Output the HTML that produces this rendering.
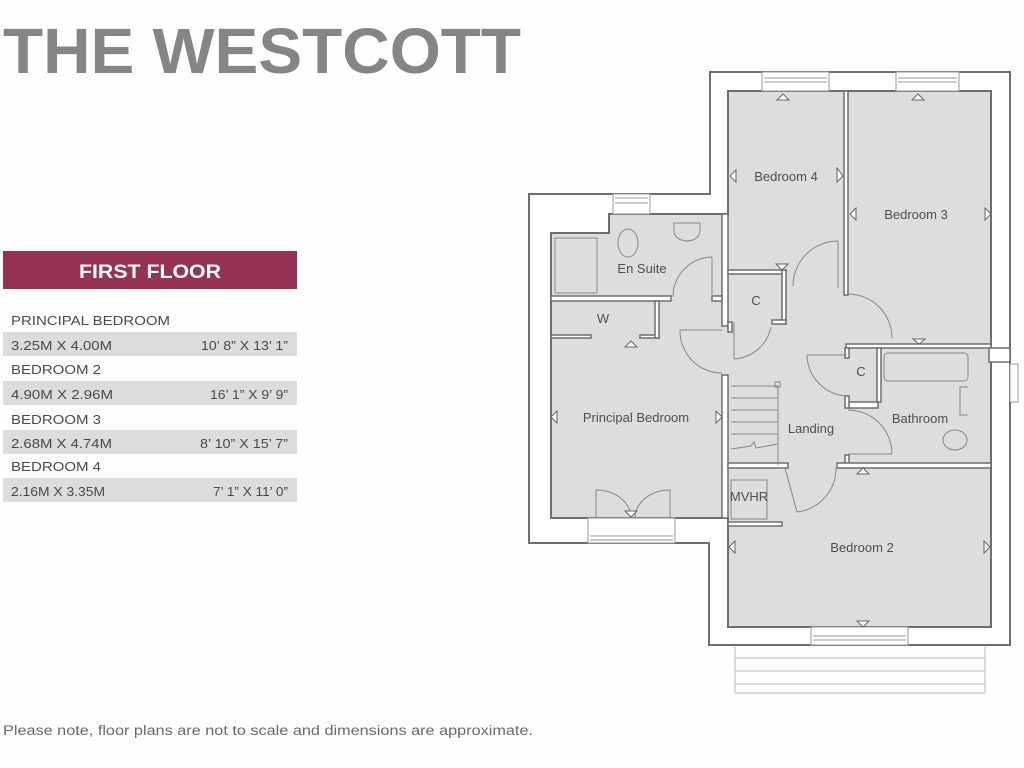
<!DOCTYPE html>
<html><head><meta charset="utf-8"><style>
html,body{margin:0;padding:0;background:#fff;}
svg{display:block;}
</style></head><body>
<svg width="1024" height="768" viewBox="0 0 1024 768" xmlns="http://www.w3.org/2000/svg" font-family="'Liberation Sans', sans-serif">
<rect width="1024" height="768" fill="#fefefe"/>
<!-- title -->
<text x="3" y="73" font-size="64" font-weight="bold" fill="#858487" textLength="518" lengthAdjust="spacingAndGlyphs">THE WESTCOTT</text>
<!-- table -->
<rect x="3" y="251" width="294" height="38" fill="#963352"/>
<text x="79" y="278" font-size="19" font-weight="bold" fill="#fff" textLength="142" lengthAdjust="spacingAndGlyphs">FIRST FLOOR</text>
<g font-size="13" fill="#4a4a4a">
<text x="11" y="325" textLength="159" lengthAdjust="spacingAndGlyphs">PRINCIPAL BEDROOM</text>
<rect x="3" y="332" width="294" height="24" fill="#dcdbdd"/>
<text x="11" y="350" textLength="101" lengthAdjust="spacingAndGlyphs">3.25M X 4.00M</text><text x="201" y="350" textLength="87" lengthAdjust="spacingAndGlyphs">10’ 8” X 13’ 1”</text>
<text x="11" y="374" textLength="90" lengthAdjust="spacingAndGlyphs">BEDROOM 2</text>
<rect x="3" y="381" width="294" height="24" fill="#dcdbdd"/>
<text x="11" y="399" textLength="102" lengthAdjust="spacingAndGlyphs">4.90M X 2.96M</text><text x="210" y="399" textLength="78" lengthAdjust="spacingAndGlyphs">16’ 1” X 9’ 9”</text>
<text x="11" y="424" textLength="90" lengthAdjust="spacingAndGlyphs">BEDROOM 3</text>
<rect x="3" y="430" width="294" height="24" fill="#dcdbdd"/>
<text x="11" y="448" textLength="101" lengthAdjust="spacingAndGlyphs">2.68M X 4.74M</text><text x="200" y="448" textLength="88" lengthAdjust="spacingAndGlyphs">8’ 10” X 15’ 7”</text>
<text x="11" y="471" textLength="90" lengthAdjust="spacingAndGlyphs">BEDROOM 4</text>
<rect x="3" y="478" width="294" height="24" fill="#dcdbdd"/>
<text x="11" y="496" textLength="94" lengthAdjust="spacingAndGlyphs">2.16M X 3.35M</text><text x="213" y="496" textLength="75" lengthAdjust="spacingAndGlyphs">7’ 1” X 11’ 0”</text>
</g>
<text x="3" y="735" font-size="13.5" fill="#6a6a6a" textLength="530" lengthAdjust="spacingAndGlyphs">Please note, floor plans are not to scale and dimensions are approximate.</text>

<!-- balcony -->
<g stroke="#bbb" stroke-width="1" fill="none">
<rect x="735" y="645" width="250" height="48"/>
<line x1="735" y1="658" x2="985" y2="658"/><line x1="735" y1="671" x2="985" y2="671"/><line x1="735" y1="684" x2="985" y2="684"/>
</g>
<!-- outer walls -->
<polygon points="529,194 710,194 710,72 1010,72 1010,645 709,645 709,543 529,543" fill="#fff" stroke="#6e6e70" stroke-width="2"/>
<!-- interior -->
<polygon points="551,233 609,233 609,214 728,214 728,91 991,91 991,627 728,627 728,518 551,518" fill="#dddcde" stroke="#6e6e70" stroke-width="2"/>
<!-- internal walls -->
<g fill="#fff" stroke="#6e6e70" stroke-width="1.5">
<rect x="722" y="214" width="6" height="112"/>
<rect x="722" y="375" width="6" height="143"/>
<rect x="551" y="296" width="120" height="5"/>
<rect x="712" y="296" width="10" height="5"/>
<rect x="551" y="335" width="40" height="3"/>
<rect x="640" y="335" width="19" height="3"/>
<rect x="655" y="301" width="4" height="37"/>
<rect x="728" y="270" width="58" height="4"/>
<rect x="782" y="270" width="4" height="54"/>
<rect x="772" y="320" width="14" height="4"/>
<rect x="728" y="322" width="4" height="10"/>
<rect x="844" y="91" width="4" height="204"/>
<rect x="846" y="344" width="145" height="4"/>
<rect x="877" y="348" width="4" height="54"/>
<rect x="848" y="402" width="30" height="6"/>
<rect x="845" y="348" width="4" height="10"/>
<rect x="845" y="396" width="4" height="12"/>
<rect x="845" y="455" width="4" height="10"/>
<rect x="837" y="463" width="154" height="5"/>
<rect x="728" y="463" width="60" height="5"/>
<rect x="728" y="522" width="54" height="4"/>
<rect x="989" y="348" width="21" height="14"/>
</g>
<!-- windows -->
<g fill="#fff" stroke="#999" stroke-width="1">
<rect x="762" y="72" width="67" height="19"/><line x1="764" y1="78" x2="827" y2="78"/><line x1="764" y1="82" x2="827" y2="82"/>
<rect x="896" y="72" width="63" height="19"/><line x1="898" y1="78" x2="957" y2="78"/><line x1="898" y1="82" x2="957" y2="82"/>
<rect x="613" y="194" width="37" height="20"/><line x1="615" y1="198" x2="648" y2="198"/><line x1="615" y1="203" x2="648" y2="203"/>
<rect x="588" y="518" width="87" height="25"/><line x1="590" y1="536" x2="673" y2="536"/><line x1="590" y1="540" x2="673" y2="540"/>
<rect x="811" y="627" width="97" height="18"/><line x1="813" y1="636" x2="906" y2="636"/><line x1="813" y1="640" x2="906" y2="640"/>
<rect x="1010" y="364" width="8" height="38"/>
</g>
<!-- fittings / doors -->
<g fill="none" stroke="#888" stroke-width="1">
<rect x="555" y="238" width="42" height="55"/>
<ellipse cx="628" cy="243" rx="10" ry="14"/>
<path d="M674,223 h26 v8 a13,10 0 0 1 -26,0 z"/>
<rect x="884" y="353" width="84" height="28" rx="4"/>
<path d="M968,387 h-8 v28 h8"/><ellipse cx="955" cy="440" rx="12" ry="10"/>
<rect x="731" y="480" width="36" height="39"/>
<path d="M712,257 A40,40 0 0 0 673,297"/><line x1="712" y1="257" x2="712" y2="297"/>
<path d="M680,330 A42,42 0 0 0 722,373"/><line x1="680" y1="330" x2="722" y2="330"/>
<path d="M771,327 A40,40 0 0 1 734,359"/><line x1="734" y1="322" x2="734" y2="359"/>
<path d="M838,241 A45,45 0 0 0 793,286"/><line x1="838" y1="241" x2="838" y2="288"/>
<path d="M848,294 A44,44 0 0 1 892,338"/>
<path d="M807,355 A42,42 0 0 0 847,396"/><line x1="807" y1="355" x2="847" y2="355"/>
<path d="M848,410 A44,44 0 0 1 892,454"/><line x1="848" y1="454" x2="892" y2="454"/>
<path d="M836,468 A44,44 0 0 1 797,512"/><line x1="785" y1="468" x2="797" y2="512"/>
<line x1="731" y1="386" x2="778" y2="386"/><line x1="731" y1="398" x2="778" y2="398"/><line x1="731" y1="410" x2="778" y2="410"/><line x1="731" y1="422" x2="778" y2="422"/><line x1="731" y1="434" x2="778" y2="434"/>
<line x1="778" y1="386" x2="778" y2="465"/><rect x="775" y="382" width="5" height="5"/>
<path d="M731,449 l20,-3 l3,-4 l2,6 l22,-4"/>
<path d="M596,518 v-28 a35,28 0 0 1 35,28 M670,518 v-28 a35,28 0 0 0 -35,28"/>
</g>
<!-- triangles -->
<g fill="#fff" stroke="#666" stroke-width="1">
<polygon points="777,100 783,94 789,100"/><polygon points="912,100 918,94 924,100"/>
<polygon points="736,170 730,176 736,182"/><polygon points="837,168 843,176 837,182"/>
<polygon points="856,208 850,214 856,220"/><polygon points="985,208 991,214 985,220"/>
<polygon points="776,264 782,270 788,264"/><polygon points="913,339 919,344 925,339"/>
<polygon points="625,347 631,341 637,347"/>
<polygon points="557,411 551,417 557,423"/><polygon points="716,411 722,417 716,423"/>
<polygon points="625,511 631,517 637,511"/>
<polygon points="857,474 863,468 869,474"/>
<polygon points="735,541 729,547 735,553"/><polygon points="984,541 990,547 984,553"/>
<polygon points="857,621 863,627 869,621"/>
</g>
<!-- labels -->
<g font-size="13" fill="#505050" text-anchor="middle">
<text x="786" y="181">Bedroom 4</text>
<text x="916" y="219">Bedroom 3</text>
<text x="642" y="273">En Suite</text>
<text x="603" y="323">W</text>
<text x="756" y="305">C</text>
<text x="636" y="422">Principal Bedroom</text>
<text x="811" y="433">Landing</text>
<text x="861" y="376">C</text>
<text x="920" y="423">Bathroom</text>
<text x="749" y="501">MVHR</text>
<text x="862" y="552">Bedroom 2</text>
</g>
</svg>
</body></html>
